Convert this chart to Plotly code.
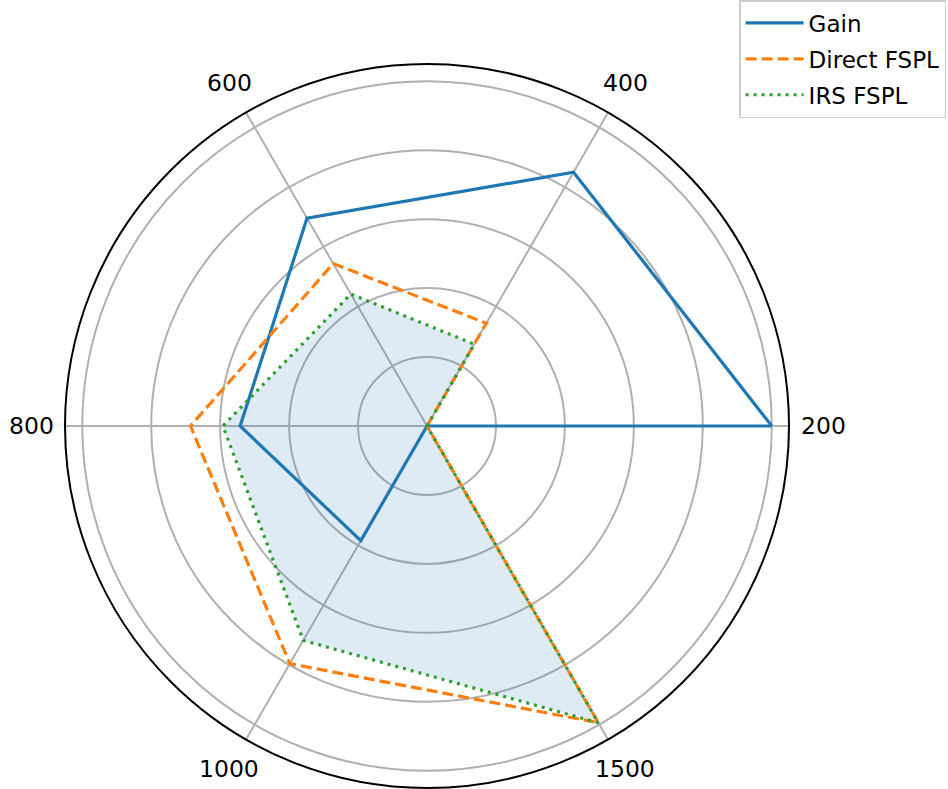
import math
import plotly.graph_objects as go

categories = ["200", "400", "600", "800", "1000", "1500"]
gain = [50.0, 42.5, 34.8, 27.1, 19.2, 0.0]
direct_fspl = [0.0, 17.2, 27.2, 34.3, 39.8, 49.7]
irs_fspl = [0.0, 13.7, 22.1, 29.6, 35.9, 49.7]
radial_ticks = [10, 20, 30, 40, 50]


def closed(vals):
    return list(vals) + [vals[0]]


theta = closed(categories)

fig = go.Figure()
fig.add_trace(go.Scatterpolar(
    r=closed(irs_fspl), theta=theta, mode="none", fill="toself",
    fillcolor="rgba(31,119,180,0.15)", showlegend=False, hoverinfo="skip"))
fig.add_trace(go.Scatterpolar(
    r=closed(gain), theta=theta, mode="lines", name="Gain", legendgroup="a",
    line=dict(color="#1f77b4", width=3.2)))
fig.add_trace(go.Scatterpolar(
    r=closed(direct_fspl), theta=theta, mode="lines", name="Direct FSPL",
    legendgroup="b", line=dict(color="#ff7f0e", width=3.2, dash="11px,5px")))
fig.add_trace(go.Scatterpolar(
    r=closed(irs_fspl), theta=theta, mode="lines", name="IRS FSPL",
    legendgroup="c", line=dict(color="#2ca02c", width=3.2, dash="3px,5px")))

W, H = 948, 789
cx, cy, R = 427, 426, 362
label_dist = 396  # px from centre for angular labels (matplotlib-like pad)

annotations = []
n = len(categories)
for i, cat in enumerate(categories):
    ang = 2 * math.pi * i / n
    px = cx + label_dist * math.cos(ang)
    py = cy - label_dist * math.sin(ang)
    annotations.append(dict(
        x=px / W, y=1 - py / H, xref="paper", yref="paper",
        text=cat, showarrow=False, xanchor="center", yanchor="middle",
        font=dict(size=23.5, family="DejaVu Sans", color="black")))

fig.update_layout(
    width=W, height=H,
    margin=dict(l=0, r=0, t=0, b=0),
    paper_bgcolor="white",
    font=dict(family="DejaVu Sans", size=23, color="black"),
    annotations=annotations,
    polar=dict(
        domain=dict(x=[(cx - R) / W, (cx + R) / W],
                    y=[(H - cy - R) / H, (H - cy + R) / H]),
        bgcolor="white",
        angularaxis=dict(
            type="category", categoryarray=categories,
            rotation=0, direction="counterclockwise",
            showline=True, linecolor="black", linewidth=2,
            gridcolor="#b0b0b0", gridwidth=1.5,
            ticks="", showticklabels=False),
        radialaxis=dict(
            range=[0, 52.5], tickvals=radial_ticks, showticklabels=False,
            ticks="", showline=False, gridcolor="#b0b0b0", gridwidth=1.5),
    ),
    legend=dict(
        x=0.998, xanchor="right", y=1.0, yanchor="top",
        bordercolor="#cccccc", borderwidth=1.5, bgcolor="white",
        itemwidth=58, tracegroupgap=3,
        font=dict(size=23, family="DejaVu Sans")),
)

fig.write_html("out.html", config={"displayModeBar": False},
               post_script="document.body.style.margin='0px';")
